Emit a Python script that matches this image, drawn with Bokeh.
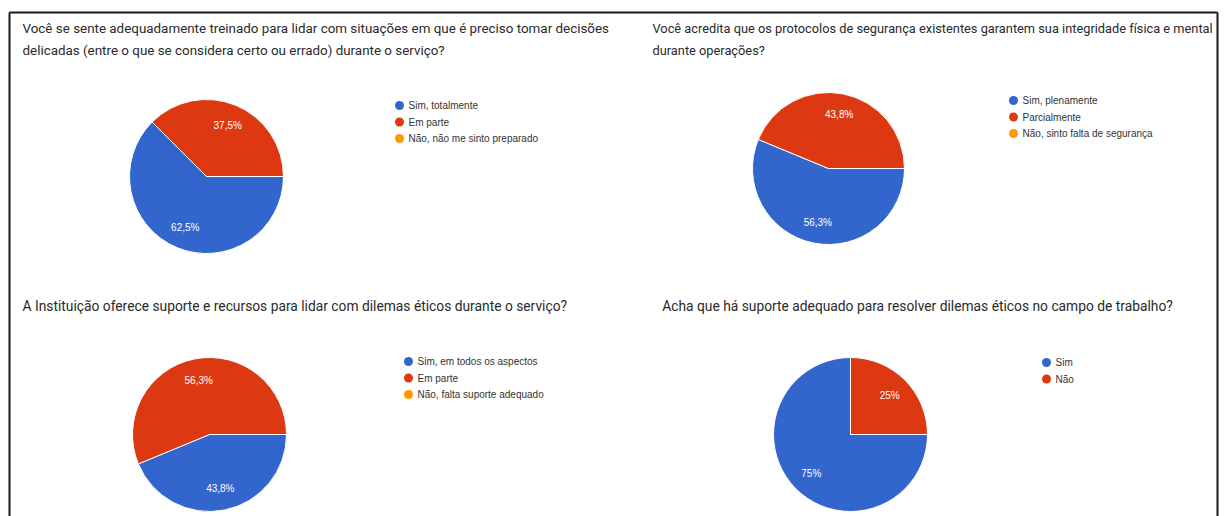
import math
from bokeh.plotting import figure
from bokeh.models import Range1d, ColumnDataSource
from bokeh.core.properties import value
from bokeh.embed import file_html
from bokeh.resources import INLINE

# ---------------- data ----------------
q1_title = ["Você se sente adequadamente treinado para lidar com situações em que é preciso tomar decisões",
            "delicadas (entre o que se considera certo ou errado) durante o serviço?"]
q1_labels = ["Sim, totalmente", "Em parte", "Não, não me sinto preparado"]
q1_values = [62.5, 37.5, 0.0]

q2_title = ["Você acredita que os protocolos de segurança existentes garantem sua integridade física e mental",
            "durante operações?"]
q2_labels = ["Sim, plenamente", "Parcialmente", "Não, sinto falta de segurança"]
q2_values = [56.3, 43.8, 0.0]

q3_title = ["A Instituição oferece suporte e recursos para lidar com dilemas éticos durante o serviço?"]
q3_labels = ["Sim, em todos os aspectos", "Em parte", "Não, falta suporte adequado"]
q3_values = [43.8, 56.3, 0.0]

q4_title = ["Acha que há suporte adequado para resolver dilemas éticos no campo de trabalho?"]
q4_labels = ["Sim", "Não"]
q4_values = [75.0, 25.0]

colors = ["#3366CC", "#DC3912", "#FF9900"]

# ---------------- layout (screen px) ----------------
W, H = 1224, 516


def X(sx):
    return sx


def Y(sy):
    return H - sy


charts = [
    dict(title=q1_title, labels=q1_labels, values=q1_values, cx=206, cy=176, r=77,
         tx=22, ty=28, talign="left", tsize="13.4px", lx=399, ly=105),
    dict(title=q2_title, labels=q2_labels, values=q2_values, cx=828, cy=168, r=76,
         tx=652, ty=28, talign="left", tsize="12.8px", lx=1013, ly=100),
    dict(title=q3_title, labels=q3_labels, values=q3_values, cx=209, cy=434, r=77,
         tx=22, ty=305, talign="left", tsize="13.8px", lx=408, ly=361),
    dict(title=q4_title, labels=q4_labels, values=q4_values, cx=850, cy=434, r=77,
         tx=917, ty=305, talign="center", tsize="13.8px", lx=1046, ly=362),
]

p = figure(width=W, height=H, x_range=Range1d(0, W), y_range=Range1d(0, H),
           x_axis_type=None, y_axis_type=None, toolbar_location=None,
           output_backend="svg", min_border=0)
p.grid.visible = False
p.outline_line_color = None
p.background_fill_color = "white"
p.border_fill_color = "white"

# frame of the screenshot
p.multi_line(xs=[[X(9), X(9)], [X(9), X(1217)], [X(1217), X(1217)]],
             ys=[[Y(560), Y(12)], [Y(12), Y(12)], [Y(12), Y(560)]],
             line_color="#1a1a1a", line_width=2)


def fmt(v):
    if abs(v - round(v)) < 1e-9:
        return "%d%%" % round(v)
    return ("%.1f%%" % v).replace(".", ",")


for c in charts:
    vals = c["values"]
    total = sum(vals)
    cx, cy, r = X(c["cx"]), Y(c["cy"]), c["r"]
    wx, wy, st, en, col = [], [], [], [], []
    tx, ty, tt = [], [], []
    cum = 0.0
    for i, v in enumerate(vals):
        if v <= 0:
            continue
        a0 = -cum / total * 2 * math.pi
        a1 = -(cum + v) / total * 2 * math.pi
        mid = -(cum + v / 2) / total * 2 * math.pi
        wx.append(cx); wy.append(cy); st.append(a0); en.append(a1); col.append(colors[i])
        tx.append(cx + 0.72 * r * math.cos(mid))
        ty.append(cy + 0.72 * r * math.sin(mid))
        tt.append(fmt(v))
        cum += v
    src = ColumnDataSource(dict(x=wx, y=wy, s=st, e=en, c=col))
    p.wedge(x="x", y="y", radius=r, start_angle="s", end_angle="e", direction="clock",
            fill_color="c", line_color="white", line_width=1, source=src)
    p.text(x=tx, y=ty, text=tt, text_color="white", text_font=value("Liberation Sans"),
           text_font_size="10px", text_align="center", text_baseline="middle")

    # title
    n = len(c["title"])
    p.text(x=[X(c["tx"])] * n, y=[Y(c["ty"] + 22 * k) for k in range(n)], text=c["title"],
           text_color="#2a2a2a", text_font=value("Roboto"), text_font_size=c["tsize"],
           text_align=c["talign"], text_baseline="middle")

    # legend
    m = len(c["labels"])
    lys = [Y(c["ly"] + 16.5 * k) for k in range(m)]
    p.scatter(x=[X(c["lx"])] * m, y=lys, marker="circle", size=9,
              fill_color=colors[:m], line_color=None)
    p.text(x=[X(c["lx"] + 9)] * m, y=lys, text=c["labels"], text_color="#333333",
           text_font=value("Liberation Sans"), text_font_size="10px",
           text_align="left", text_baseline="middle")

open("out.html", "w").write(file_html(p, INLINE))
